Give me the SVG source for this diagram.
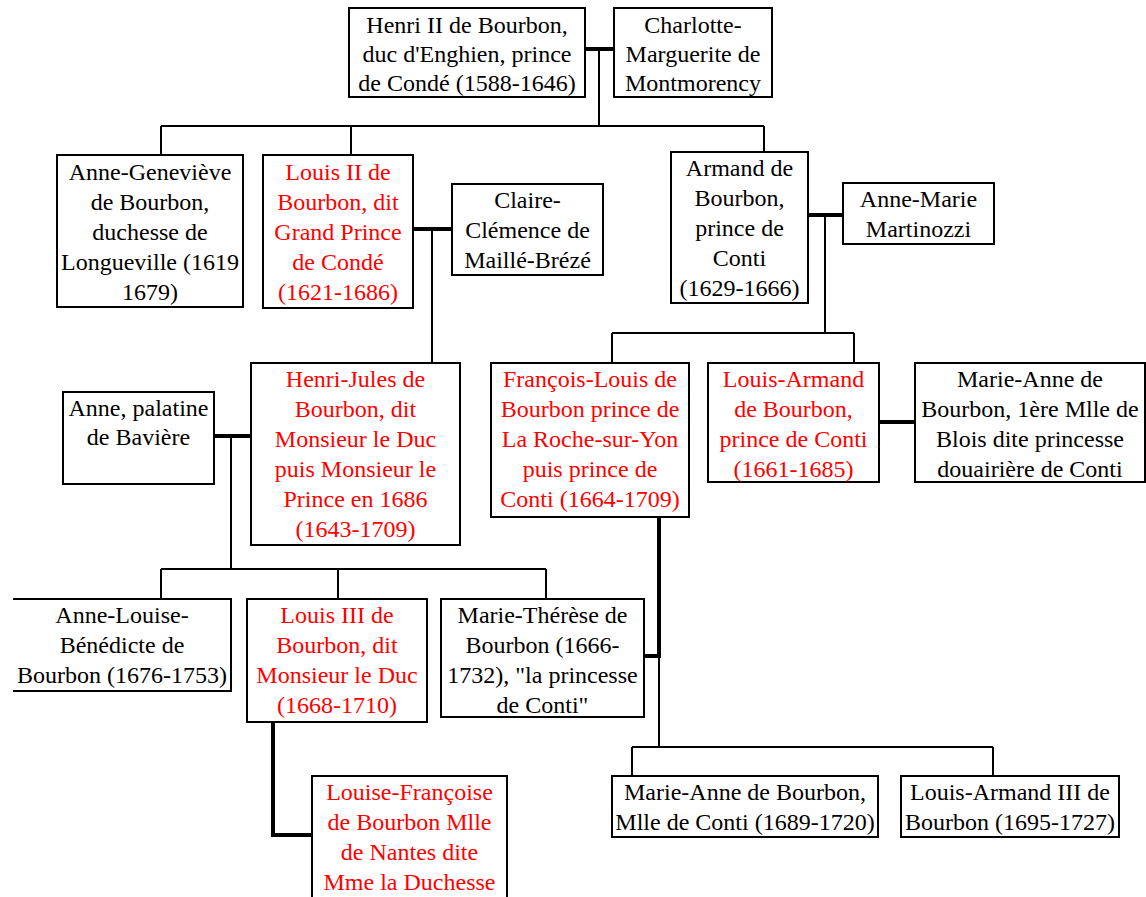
<svg xmlns="http://www.w3.org/2000/svg" width="1146" height="897" viewBox="0 0 1146 897">
<style>
.b{fill:#fff;stroke:#000;stroke-width:2}
.t{font-family:"Liberation Serif","Times New Roman",serif;font-size:24px;text-anchor:middle;fill:#000}
.r{fill:#ff0000}
.c{fill:none;stroke:#000;stroke-width:2}
.m{fill:none;stroke:#000;stroke-width:4}
</style>
<rect width="1146" height="897" fill="#fff"/>
<g id="connectors">
<path class="m" d="M585,49H614"/>
<path class="c" d="M599,49V126M161,126H764M161,126V155M351,126V155M764,126V152"/>
<path class="m" d="M413,229H452"/>
<path class="c" d="M432,229V363"/>
<path class="m" d="M808,215H843"/>
<path class="c" d="M825,215V333M612,333H854M612,333V363M854,333V363"/>
<path class="m" d="M214,436H251"/>
<path class="c" d="M231,436V569M161,569H546M161,569V599M338,569V599M546,569V599"/>
<path class="m" d="M659,517V656H644"/>
<path class="c" d="M659,656V747M632,747H993M632,747V776M993,747V776"/>
<path class="m" d="M273,722V835H312"/>
<path class="m" d="M874,422H915"/>
</g>
<g id="henri2"><rect class="b" x="349" y="8" width="236" height="89"/>
<text class="t"><tspan x="467" y="33">Henri II de Bourbon,</tspan><tspan x="467" y="62">duc d'Enghien, prince</tspan><tspan x="467" y="91">de Condé (1588-1646)</tspan></text></g>
<g id="charlotte"><rect class="b" x="614" y="8" width="158" height="89"/>
<text class="t"><tspan x="693" y="33">Charlotte-</tspan><tspan x="693" y="62">Marguerite de</tspan><tspan x="693" y="91">Montmorency</tspan></text></g>
<g id="anne-genevieve"><rect class="b" x="57" y="155" width="186" height="152"/>
<text class="t"><tspan x="150" y="180">Anne-Geneviève</tspan><tspan x="150" y="210">de Bourbon,</tspan><tspan x="150" y="240">duchesse de</tspan><tspan x="150" y="270">Longueville (1619</tspan><tspan x="150" y="300">1679)</tspan></text></g>
<g id="louis2"><rect class="b" x="263" y="155" width="150" height="153"/>
<text class="t r"><tspan x="338" y="180">Louis II de</tspan><tspan x="338" y="210">Bourbon, dit</tspan><tspan x="338" y="240">Grand Prince</tspan><tspan x="338" y="270">de Condé</tspan><tspan x="338" y="300">(1621-1686)</tspan></text></g>
<g id="claire"><rect class="b" x="452" y="184" width="151" height="91"/>
<text class="t"><tspan x="527.5" y="208">Claire-</tspan><tspan x="527.5" y="238">Clémence de</tspan><tspan x="527.5" y="268">Maillé-Brézé</tspan></text></g>
<g id="armand"><rect class="b" x="671" y="152" width="137" height="151"/>
<text class="t"><tspan x="739.5" y="176">Armand de</tspan><tspan x="739.5" y="206">Bourbon,</tspan><tspan x="739.5" y="236">prince de</tspan><tspan x="739.5" y="266">Conti</tspan><tspan x="739.5" y="296">(1629-1666)</tspan></text></g>
<g id="anne-marie"><rect class="b" x="843" y="183" width="151" height="61"/>
<text class="t"><tspan x="918.5" y="207">Anne-Marie</tspan><tspan x="918.5" y="237">Martinozzi</tspan></text></g>
<g id="anne-palatine"><rect class="b" x="63" y="392" width="151" height="92"/>
<text class="t"><tspan x="138.5" y="416">Anne, palatine</tspan><tspan x="138.5" y="445">de Bavière</tspan></text></g>
<g id="henri-jules"><rect class="b" x="251" y="363" width="209" height="182"/>
<text class="t r"><tspan x="355.5" y="387">Henri-Jules de</tspan><tspan x="355.5" y="417">Bourbon, dit</tspan><tspan x="355.5" y="447">Monsieur le Duc</tspan><tspan x="355.5" y="477">puis Monsieur le</tspan><tspan x="355.5" y="507">Prince en 1686</tspan><tspan x="355.5" y="537">(1643-1709)</tspan></text></g>
<g id="francois-louis"><rect class="b" x="491" y="363" width="198" height="154"/>
<text class="t r"><tspan x="590" y="387">François-Louis de</tspan><tspan x="590" y="417">Bourbon prince de</tspan><tspan x="590" y="447">La Roche-sur-Yon</tspan><tspan x="590" y="477">puis prince de</tspan><tspan x="590" y="507">Conti (1664-1709)</tspan></text></g>
<g id="louis-armand"><rect class="b" x="708" y="363" width="171" height="119"/>
<text class="t r"><tspan x="793.5" y="387">Louis-Armand</tspan><tspan x="793.5" y="417">de Bourbon,</tspan><tspan x="793.5" y="447">prince de Conti</tspan><tspan x="793.5" y="477">(1661-1685)</tspan></text></g>
<g id="marie-anne-blois"><rect class="b" x="915" y="363" width="230" height="119"/>
<text class="t"><tspan x="1030" y="387">Marie-Anne de</tspan><tspan x="1030" y="417">Bourbon, 1ère Mlle de</tspan><tspan x="1030" y="447">Blois dite princesse</tspan><tspan x="1030" y="477">douairière de Conti</tspan></text></g>
<g id="anne-louise"><path class="b" d="M13,599H231V691H13"/>
<text class="t"><tspan x="122" y="623">Anne-Louise-</tspan><tspan x="122" y="653">Bénédicte de</tspan><tspan x="122" y="683">Bourbon (1676-1753)</tspan></text></g>
<g id="louis3"><rect class="b" x="247" y="599" width="180" height="123"/>
<text class="t r"><tspan x="337" y="623">Louis III de</tspan><tspan x="337" y="653">Bourbon, dit</tspan><tspan x="337" y="683">Monsieur le Duc</tspan><tspan x="337" y="713">(1668-1710)</tspan></text></g>
<g id="marie-therese"><rect class="b" x="441" y="599" width="203" height="118"/>
<text class="t"><tspan x="542.5" y="623">Marie-Thérèse de</tspan><tspan x="542.5" y="653">Bourbon (1666-</tspan><tspan x="542.5" y="683">1732), "la princesse</tspan><tspan x="542.5" y="713">de Conti"</tspan></text></g>
<g id="louise-francoise"><rect class="b" x="312" y="776" width="195" height="130"/>
<text class="t r"><tspan x="409.5" y="800">Louise-Françoise</tspan><tspan x="409.5" y="830">de Bourbon Mlle</tspan><tspan x="409.5" y="860">de Nantes dite</tspan><tspan x="409.5" y="890">Mme la Duchesse</tspan></text></g>
<g id="marie-anne-conti"><rect class="b" x="612" y="776" width="266" height="61"/>
<text class="t"><tspan x="745" y="800">Marie-Anne de Bourbon,</tspan><tspan x="745" y="830">Mlle de Conti (1689-1720)</tspan></text></g>
<g id="louis-armand3"><rect class="b" x="901" y="776" width="218" height="61"/>
<text class="t"><tspan x="1010" y="800">Louis-Armand III de</tspan><tspan x="1010" y="830">Bourbon (1695-1727)</tspan></text></g>
</svg>
